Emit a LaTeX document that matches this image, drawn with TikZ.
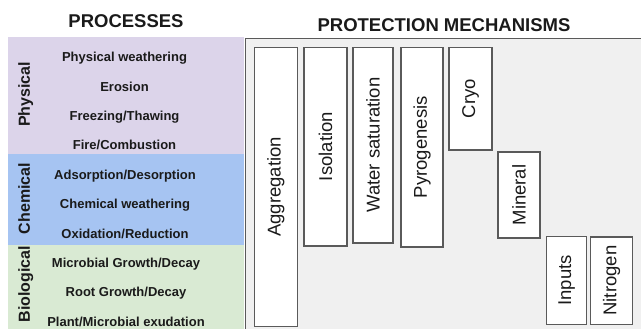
\documentclass[tikz,border=0pt]{standalone}
\usepackage{fontspec}
\setmainfont{Liberation Sans}
\definecolor{physcol}{HTML}{DCD4EA}
\definecolor{chemcol}{HTML}{A6C4F2}
\definecolor{biocol}{HTML}{D9EAD3}
\definecolor{panelcol}{HTML}{F0F0F0}
\definecolor{edgecol}{HTML}{5A5A5A}
\definecolor{txtcol}{HTML}{1A1A1A}
\tikzset{
  header/.style={font=\bfseries\fontsize{18.5}{20}\selectfont, text=txtcol, anchor=base, inner sep=0pt},
  procitem/.style={font=\bfseries\fontsize{13}{14}\selectfont, text=txtcol, anchor=base, inner sep=0pt},
  grouplabel/.style={font=\bfseries\fontsize{16}{17}\selectfont, text=txtcol, anchor=base, rotate=90, inner sep=0pt},
  mech/.style={draw=edgecol, line width=1.2pt, fill=white, rotate=90, inner sep=0pt,
    font=\fontsize{18.5}{20}\selectfont, text=txtcol},
}
\begin{document}
\begin{tikzpicture}[x=1pt,y=-1pt]
\useasboundingbox (0,0) rectangle (641,329);
% process bands
\fill[physcol] (8,37) rectangle (244,154);
\fill[chemcol] (8,154) rectangle (244,245);
\fill[biocol] (8,245) rectangle (244,329);
% headers
\node[header] (hproc) at (126,28) {PROCESSES};
\node[header] (hmech) at (444,32) {PROTECTION MECHANISMS};
% group labels
\node[grouplabel] (gphys) at (30,94.5) {Physical};
\node[grouplabel] (gchem) at (30,198.5) {Chemical};
\node[grouplabel] (gbio) at (30,284) {Biological};
% process items
\node[procitem] (p1) at (124.5,61.7) {Physical weathering};
\node[procitem] (p2) at (124.5,91.1) {Erosion};
\node[procitem] (p3) at (124.5,120.5) {Freezing/Thawing};
\node[procitem] (p4) at (124.5,149.9) {Fire/Combustion};
\node[procitem] (p5) at (125,179.3) {Adsorption/Desorption};
\node[procitem] (p6) at (125,208.7) {Chemical weathering};
\node[procitem] (p7) at (125,238.1) {Oxidation/Reduction};
\node[procitem] (p8) at (126,267.5) {Microbial Growth/Decay};
\node[procitem] (p9) at (126,296.9) {Root Growth/Decay};
\node[procitem] (p10) at (126,326.3) {Plant/Microbial exudation};
% protection panel
\fill[panelcol] (245.5,38.3) rectangle (641,329);
\draw[edgecol, line width=1.5pt] (245.5,329) -- (245.5,38.3) -- (641,38.3);
% mechanism boxes (minimum width = vertical extent, minimum height = horizontal extent)
\node[mech, minimum width=279.4pt, minimum height=42.8pt] (agg) at (275.9,187) {Aggregation};
\node[mech, minimum width=198.7pt, minimum height=43pt] (iso) at (325.5,146.6) {Isolation};
\node[mech, minimum width=195.7pt, minimum height=40pt] (wat) at (373,145.2) {Water saturation};
\node[mech, minimum width=199.7pt, minimum height=42pt] (pyr) at (422,147.2) {Pyrogenesis};
\node[mech, minimum width=102.7pt, minimum height=43pt] (cry) at (470.5,98.7) {Cryo};
\node[mech, minimum width=86pt, minimum height=42pt] (min) at (519,195) {Mineral};
\node[mech, minimum width=87.6pt, minimum height=40pt] (inp) at (566.7,280.5) {Inputs};
\node[mech, minimum width=87.3pt, minimum height=41.6pt] (nit) at (611.5,280.6) {Nitrogen};
\end{tikzpicture}
\end{document}
